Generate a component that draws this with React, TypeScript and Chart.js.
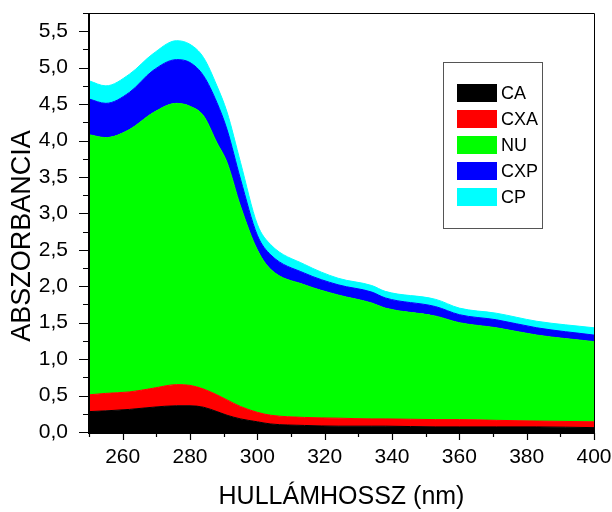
import React, { useEffect, useRef } from "react";
import { Chart, registerables } from "chart.js";

Chart.register(...registerables);

const wavelengths = [250, 255, 262, 269, 276, 280, 284, 288, 291, 295, 300, 304, 314, 324, 334, 338, 353, 360, 371, 383, 400];
const seriesCA = [0.28, 0.29, 0.31, 0.34, 0.36, 0.36, 0.34, 0.28, 0.23, 0.18, 0.14, 0.11, 0.09, 0.08, 0.08, 0.08, 0.07, 0.07, 0.07, 0.07, 0.06];
const seriesCXA = [0.23, 0.24, 0.24, 0.26, 0.29, 0.28, 0.25, 0.23, 0.21, 0.17, 0.13, 0.12, 0.11, 0.11, 0.10, 0.10, 0.10, 0.10, 0.09, 0.08, 0.08];
const seriesNU = [3.57, 3.51, 3.60, 3.78, 3.86, 3.83, 3.75, 3.46, 3.26, 2.75, 2.23, 2.00, 1.82, 1.69, 1.59, 1.52, 1.42, 1.33, 1.27, 1.18, 1.10];
const seriesCXP = [0.49, 0.47, 0.51, 0.58, 0.60, 0.60, 0.55, 0.55, 0.45, 0.37, 0.20, 0.20, 0.16, 0.14, 0.15, 0.14, 0.13, 0.11, 0.11, 0.10, 0.09];
const seriesCP = [0.25, 0.24, 0.25, 0.23, 0.26, 0.25, 0.25, 0.23, 0.24, 0.23, 0.15, 0.14, 0.12, 0.09, 0.09, 0.09, 0.10, 0.09, 0.09, 0.09, 0.10];

const seriesNames = ["CA", "CXA", "NU", "CXP", "CP"];
const seriesColors = ["#000000", "#ff0000", "#00ff00", "#0000ff", "#00ffff"];
const seriesValues = [seriesCA, seriesCXA, seriesNU, seriesCXP, seriesCP];

const xTitle = "HULLÁMHOSSZ (nm)";
const yTitle = "ABSZORBANCIA";

const FONT = "'Liberation Sans', Arial, sans-serif";

const framePlugin = {
  id: "frame",
  afterDatasetsDraw(chart: any) {
    const { ctx, chartArea } = chart;
    const { left, right, top, bottom } = chartArea;
    const xs = chart.scales.x;
    const ys = chart.scales.y;
    ctx.save();
    ctx.strokeStyle = "#000";
    // top and right border
    ctx.lineWidth = 1;
    ctx.beginPath();
    ctx.moveTo(left, top + 0.5);
    ctx.lineTo(right + 0.5, top + 0.5);
    ctx.lineTo(right + 0.5, bottom);
    ctx.stroke();
    // axes
    ctx.lineWidth = 2;
    ctx.beginPath();
    ctx.moveTo(left, top);
    ctx.lineTo(left, bottom + 1);
    ctx.lineTo(right + 1, bottom + 1);
    ctx.stroke();
    // ticks
    ctx.lineWidth = 1.2;
    ctx.beginPath();
    xs.ticks.forEach((t: any) => {
      const px = Math.round(xs.getPixelForValue(t.value)) + 0.5;
      const major = Math.round(t.value) % 20 === 0;
      ctx.moveTo(px, bottom + 1);
      ctx.lineTo(px, bottom + 1 + (major ? 7 : 4));
    });
    ys.ticks.forEach((t: any) => {
      const py = Math.round(ys.getPixelForValue(t.value)) + 0.5;
      const major = Math.abs(t.value * 2 - Math.round(t.value * 2)) < 1e-6;
      ctx.moveTo(left - 1, py);
      ctx.lineTo(left - 1 - (major ? 9 : 5), py);
    });
    ctx.stroke();

    // y axis title
    ctx.save();
    ctx.translate(23, 236);
    ctx.rotate(-Math.PI / 2);
    ctx.fillStyle = "#000";
    ctx.font = `27px ${FONT}`;
    ctx.textAlign = "center";
    ctx.textBaseline = "middle";
    ctx.fillText(yTitle, 0, 0);
    ctx.restore();

    // legend
    const lx = 443, ly = 62, lw = 99, lh = 166;
    ctx.lineWidth = 1;
    ctx.strokeStyle = "#555";
    ctx.fillStyle = "#fff";
    ctx.fillRect(lx, ly, lw, lh);
    ctx.strokeRect(lx + 0.5, ly + 0.5, lw, lh);
    ctx.font = `18px ${FONT}`;
    ctx.textBaseline = "middle";
    ctx.textAlign = "left";
    chart.data.datasets.forEach((ds: any, i: number) => {
      const sy = 84 + i * 26;
      ctx.fillStyle = ds.backgroundColor;
      ctx.fillRect(457, sy, 40, 18);
      ctx.fillStyle = "#000";
      ctx.fillText(ds.label, 501, sy + 10);
    });
    ctx.restore();
  },
};

export default function App() {
  const canvasRef = useRef<HTMLCanvasElement | null>(null);

  useEffect(() => {
    if (!canvasRef.current) return;
    const datasets = seriesNames.map((name, i) => ({
      label: name,
      data: wavelengths.map((w, j) => ({ x: w, y: seriesValues[i][j] })),
      backgroundColor: seriesColors[i],
      borderColor: seriesColors[i],
      borderWidth: 1,
      pointRadius: 0,
      tension: 0.4,
      cubicInterpolationMode: "monotone" as const,
      fill: i === 0 ? "origin" : "-1",
    }));
    const chart = new Chart(canvasRef.current, {
      type: "line",
      data: { datasets },
      plugins: [framePlugin],
      options: {
        animation: false,
        responsive: false,
        maintainAspectRatio: false,
        layout: { padding: { left: 0, top: 13, right: 18, bottom: 0 } },
        plugins: { legend: { display: false }, tooltip: { enabled: false } },
        scales: {
          x: {
            type: "linear",
            min: 250,
            max: 400,
            grid: { display: false },
            border: { display: false },
            ticks: {
              stepSize: 10,
              autoSkip: false,
              maxRotation: 0,
              padding: 5,
              color: "#000",
              font: { family: FONT, size: 21 },
              callback: (v: any) => (Math.round(v) % 20 === 0 ? String(v) : ""),
            },
            title: {
              display: true,
              text: xTitle,
              color: "#000",
              font: { family: FONT, size: 25 },
              padding: { top: 0, bottom: 0 },
            },
            afterFit: (s: any) => {
              s.height = 80;
              s.paddingLeft = 0;
              s.paddingRight = 0;
            },
          },
          y: {
            type: "linear",
            min: 0,
            max: 5.75,
            stacked: true,
            grid: { display: false },
            border: { display: false },
            ticks: {
              stepSize: 0.25,
              autoSkip: false,
              padding: 13,
              color: "#000",
              font: { family: FONT, size: 21 },
              callback: (v: any) => {
                const n = Number(v);
                if (Math.abs(n * 2 - Math.round(n * 2)) > 1e-6) return "";
                return n.toFixed(1).replace(".", ",");
              },
            },
            title: { display: false, text: yTitle },
            afterFit: (s: any) => {
              s.width = 89;
              s.paddingTop = 0;
              s.paddingBottom = 0;
            },
          },
        },
      },
    });
    return () => chart.destroy();
  }, []);

  return (
    <div style={{ position: "fixed", left: 0, top: 0, width: 612, height: 512, background: "#fff" }}>
      <canvas ref={canvasRef} width={612} height={512} style={{ width: 612, height: 512 }} />
    </div>
  );
}
